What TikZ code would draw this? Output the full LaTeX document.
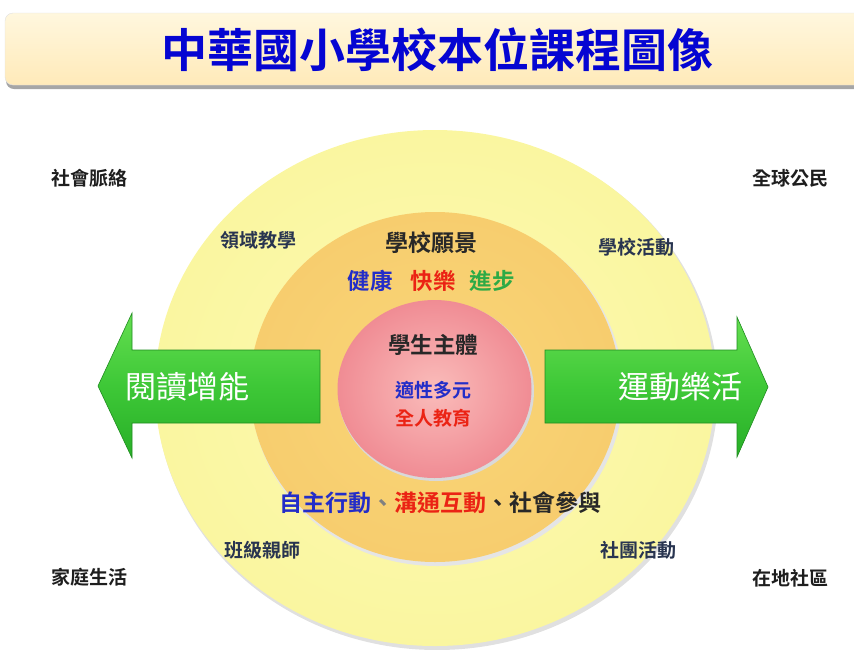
\documentclass[tikz,border=0pt]{standalone}
\usepackage{fontspec}
\setmainfont{Noto Sans CJK TC}[BoldFont={* Bold}]
\definecolor{titleblue}{RGB}{5,5,210}
\definecolor{barTop}{RGB}{255,247,222}
\definecolor{barBot}{RGB}{255,234,185}
\definecolor{outerY}{RGB}{250,246,160}
\definecolor{outerYc}{RGB}{252,250,178}
\definecolor{midO}{RGB}{247,205,110}
\definecolor{midOc}{RGB}{249,214,120}
\definecolor{pinkE}{RGB}{240,140,148}
\definecolor{pinkC}{RGB}{250,188,186}
\definecolor{gTop}{RGB}{100,222,80}
\definecolor{gMid}{RGB}{62,200,55}
\definecolor{gBot}{RGB}{40,175,40}
\definecolor{ringtxt}{RGB}{40,52,80}
\definecolor{cornertxt}{RGB}{30,30,30}
\definecolor{txtblue}{RGB}{35,45,200}
\definecolor{txtred}{RGB}{235,35,20}
\definecolor{txtgreen}{RGB}{45,170,70}
\definecolor{txtdark}{RGB}{40,40,40}
\tikzset{
  corner/.style={text=cornertxt,font=\bfseries\fontsize{19}{21}\selectfont,inner sep=0pt},
  ring/.style={text=ringtxt,font=\bfseries\fontsize{19}{21}\selectfont,inner sep=0pt},
  head/.style={text=txtdark,font=\bfseries\fontsize{23}{26}\selectfont,inner sep=0pt},
  arrowtxt/.style={text=white,font=\fontsize{31}{34}\selectfont,inner sep=0pt},
  greenarrow/.style={top color=gTop,bottom color=gBot,middle color=gMid,draw=gBot!80!black,line width=0.6pt},
}
\begin{document}
\begin{tikzpicture}[x=1pt,y=-1pt]
\useasboundingbox (0,0) rectangle (854,649);
% title bar
\fill[black!35,rounded corners=8pt] (6,17) rectangle (870,89);
\shade[top color=barTop,bottom color=barBot,rounded corners=8pt,draw=black!12] (5,13) rectangle (870,85);
\node[text=titleblue,font=\bfseries\fontsize{46}{50}\selectfont,inner sep=0pt] (title) at (437,50) {中華國小學校本位課程圖像};
% circles
\fill[black!12] (437,391) ellipse [x radius=281, y radius=259];
\shade[inner color=outerYc,outer color=outerY] (435,388) ellipse [x radius=280, y radius=258];
\fill[black!10] (437,390) ellipse [x radius=186, y radius=176];
\shade[inner color=midOc,outer color=midO] (435,387) ellipse [x radius=185, y radius=175];
\fill[black!15] (436,391) ellipse [x radius=98, y radius=90];
\shade[inner color=pinkC,outer color=pinkE] (434.5,389) ellipse [x radius=97, y radius=89];
% arrows
\shade[greenarrow] (320,350) -- (132,350) -- (132,313) -- (98,386) -- (132,458) -- (132,423) -- (320,423) -- cycle;
\shade[greenarrow] (545,350) -- (737,350) -- (737,317) -- (768,387) -- (737,457) -- (737,423) -- (545,423) -- cycle;
\node[arrowtxt] (la) at (187,387) {閱讀增能};
\node[arrowtxt] (ra) at (680,387) {運動樂活};
% corner labels
\node[corner] (c1) at (89,178) {社會脈絡};
\node[corner] (c2) at (790,178) {全球公民};
\node[corner] (c3) at (89,577) {家庭生活};
\node[corner] (c4) at (790,578) {在地社區};
% ring labels
\node[ring] (r1) at (258,240) {領域教學};
\node[ring] (r2) at (636,247) {學校活動};
\node[ring] (r3) at (262,550) {班級親師};
\node[ring] (r4) at (638,550) {社團活動};
% middle ring
\node[head] (vision) at (431,243) {學校願景};
\node[inner sep=0pt,font=\bfseries\fontsize{22.5}{25}\selectfont] (goals) at (431,281)
  {\textcolor{txtblue}{健康}\hspace{18pt}\textcolor{txtred}{快樂}\hspace{14pt}\textcolor{txtgreen}{進步}};
\node[inner sep=0pt,font=\bfseries\fontsize{23}{26}\selectfont] (comp) at (440,503)
  {\textcolor{txtblue}{自主行動}\textcolor{black!50}{、}\textcolor{txtred}{溝通互動}\textcolor{txtdark}{、社會參與}};
% center
\node[head,font=\bfseries\fontsize{22.5}{25}\selectfont] (student) at (433,345) {學生主體};
\node[inner sep=0pt,text=txtblue,font=\bfseries\fontsize{19}{21}\selectfont] (s1) at (433,390) {適性多元};
\node[inner sep=0pt,text=txtred,font=\bfseries\fontsize{19}{21}\selectfont] (s2) at (433,418) {全人教育};
\end{tikzpicture}
\end{document}
